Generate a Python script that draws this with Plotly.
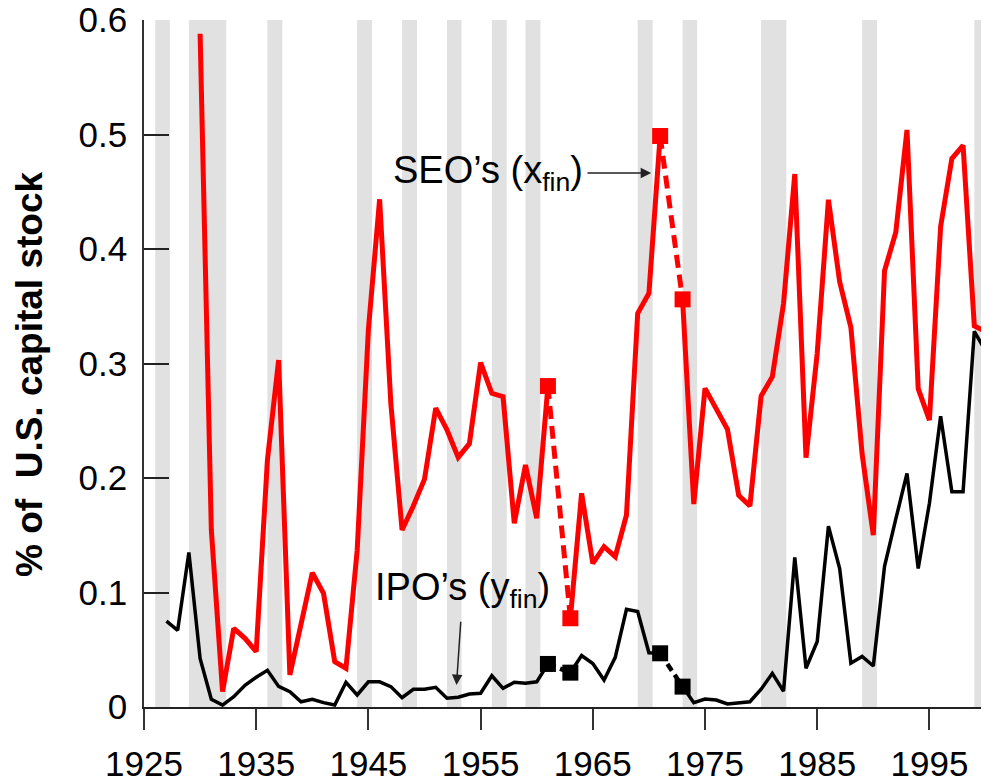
import plotly.graph_objects as go

# ---------------- data ----------------
years = list(range(1927, 2002))

seo = [None, None, None,                                   # 1927-1929
       0.588, 0.1546, 0.0134, 0.0687, 0.060, 0.0483, 0.2157, 0.303, 0.028, 0.073,   # 1930-1939
       0.1173, 0.0993, 0.0396, 0.0338, 0.137, 0.33, 0.4434, 0.265, 0.1546, 0.1755,  # 1940-1949
       0.199, 0.261, 0.242, 0.218, 0.230, 0.3007, 0.274, 0.271, 0.1604, 0.2114,     # 1950-1959
       0.1648, 0.2803, None, 0.0775, 0.1866, 0.1255, 0.140, 0.1313, 0.1677, 0.3438, # 1960-1969
       0.3613, 0.4987, None, 0.356, 0.1773, 0.2783, 0.261, 0.2425, 0.185, 0.1755,   # 1970-1979
       0.2716, 0.2885, 0.3526, 0.4655, 0.2177, 0.309, 0.443, 0.3714, 0.3316, 0.221, # 1980-1989
       0.150, 0.381, 0.4145, 0.504, 0.278, 0.2505, 0.4197, 0.479, 0.4904, 0.3328,   # 1990-1999
       0.328, 0.45]                                         # 2000-2001

ipo = [0.075, 0.067, 0.135,                                 # 1927-1929
       0.0425, 0.0067, 0.0017, 0.009, 0.019, 0.026, 0.032, 0.018, 0.0134, 0.0046,   # 1930-1939
       0.0067, 0.0038, 0.0017, 0.0216, 0.0105, 0.022, 0.022, 0.0178, 0.0081, 0.0155,# 1940-1949
       0.0155, 0.0172, 0.0076, 0.0085, 0.0114, 0.012, 0.0273, 0.0163, 0.0216, 0.0207,# 1950-1959
       0.022, 0.0376, None, 0.030, 0.0450, 0.038, 0.0236, 0.0434, 0.0853, 0.0833,   # 1960-1969
       0.0474, 0.0469, None, 0.0178, 0.0038, 0.007, 0.0061, 0.0026, 0.0038, 0.0046, # 1970-1979
       0.0155, 0.0294, 0.0138, 0.1307, 0.0338, 0.0572, 0.158, 0.121, 0.0383, 0.0441,# 1980-1989
       0.0358, 0.1228, 0.164, 0.204, 0.121, 0.178, 0.254, 0.188, 0.188, 0.328,      # 1990-1999
       0.311, 0.07]                                         # 2000-2001

# shaded (recession) periods
band_start = [1926, 1929, 1936, 1944, 1948, 1952, 1956, 1959, 1969, 1973, 1980, 1989, 1999]
band_end   = [1927.3, 1932.33, 1937.33, 1945.33, 1949.33, 1953.3, 1957.33, 1960.33,
              1970.33, 1974.3, 1982.25, 1990.33, 2002]

# years bridged by dashed segments (missing year in between)
gap_pairs = [(1961, 1963), (1971, 1973)]

x_ticks = [1925, 1935, 1945, 1955, 1965, 1975, 1985, 1995]
x_tick_labels = [str(v) for v in x_ticks]
y_ticks = [0, 0.1, 0.2, 0.3, 0.4, 0.5, 0.6]
y_tick_labels = ["0", "0.1", "0.2", "0.3", "0.4", "0.5", "0.6"]

FONT = "Liberation Sans, Arial, Helvetica, sans-serif"

# ---------------- figure ----------------
fig = go.Figure()

for s, e in zip(band_start, band_end):
    fig.add_shape(type="rect", xref="x", yref="y", x0=s, x1=e, y0=0, y1=0.6,
                  fillcolor="#e1e1e1", line_width=0, layer="below")

fig.add_trace(go.Scatter(x=years, y=ipo, mode="lines", connectgaps=False,
                         line=dict(color="black", width=3.5), showlegend=False))
fig.add_trace(go.Scatter(x=years, y=seo, mode="lines", connectgaps=False,
                         line=dict(color="#ff0000", width=5), showlegend=False))

for a, b in gap_pairs:
    ia, ib = years.index(a), years.index(b)
    fig.add_trace(go.Scatter(x=[a, b], y=[ipo[ia], ipo[ib]], mode="lines+markers",
                             line=dict(color="black", width=4.5, dash="8px,5px"),
                             marker=dict(symbol="square", size=16, color="black"),
                             showlegend=False))
    fig.add_trace(go.Scatter(x=[a, b], y=[seo[ia], seo[ib]], mode="lines+markers",
                             line=dict(color="#ff0000", width=5, dash="13px,7px"),
                             marker=dict(symbol="square", size=16, color="#ff0000"),
                             showlegend=False))

# text labels with arrows (arrow tip at x/y, text centred at ax/ay)
fig.add_annotation(x=1970.2, y=0.4664, ax=1955.66, ay=0.4664,
                   xref="x", yref="y", axref="x", ayref="y",
                   text="SEO’s (x<sub>fin</sub>)", showarrow=True,
                   arrowhead=2, arrowsize=1.4, arrowwidth=1.5, arrowcolor="#222222",
                   startstandoff=3,
                   font=dict(family=FONT, size=38, color="black"))

fig.add_annotation(x=1952.85, y=0.0192, ax=1953.42, ay=0.102,
                   xref="x", yref="y", axref="x", ayref="y",
                   text="IPO’s (y<sub>fin</sub>)", showarrow=True,
                   arrowhead=2, arrowsize=1.4, arrowwidth=1.5, arrowcolor="#222222",
                   startstandoff=6,
                   font=dict(family=FONT, size=38, color="black"))

# y-axis title
fig.add_annotation(x=-0.1349, y=0.4833, xref="paper", yref="paper",
                   text="<b>% of  U.S. capital stock</b>", showarrow=False,
                   textangle=-90, font=dict(family=FONT, size=37, color="black"),
                   xanchor="center", yanchor="middle")

# the page body has an 8px margin, so the figure is sized/margined to compensate
fig.update_layout(
    width=981, height=776,
    margin=dict(l=136, r=0, t=12, b=77, pad=0, autoexpand=False),
    paper_bgcolor="white", plot_bgcolor="white",
    font=dict(family=FONT, color="black"),
    showlegend=False,
)
fig.update_xaxes(range=[1925, 2000.31], tickmode="array", tickvals=x_ticks,
                 ticktext=x_tick_labels, ticks="outside", ticklen=21, tickwidth=1.5,
                 tickcolor="#333333", showline=True, linecolor="#222222", linewidth=2,
                 showgrid=False, zeroline=False, tickfont=dict(size=35),
                 ticklabelstandoff=4, automargin=False, ticklabeloverflow="allow")
fig.update_yaxes(range=[0, 0.6], tickmode="array", tickvals=y_ticks,
                 ticktext=y_tick_labels, ticks="inside", ticklen=25, tickwidth=1.5,
                 tickcolor="#222222", showline=True, linecolor="#333333", linewidth=1.5,
                 showgrid=False, zeroline=False, tickfont=dict(size=35),
                 ticklabelstandoff=8, automargin=False, ticklabeloverflow="allow")

fig.write_html("out.html")
